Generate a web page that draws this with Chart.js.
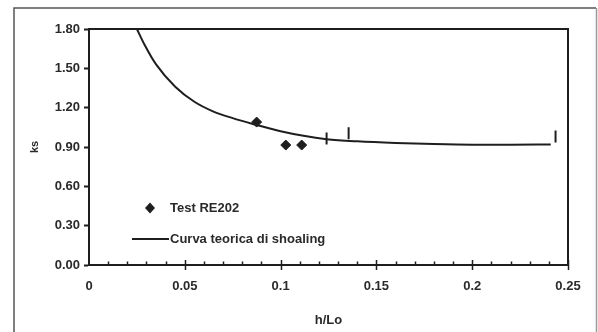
<!DOCTYPE html>
<html>
<head>
<meta charset="utf-8">
<script src="https://cdn.jsdelivr.net/npm/chart.js@4.4.1/dist/chart.umd.min.js"></script>
<style>
  html, body { margin: 0; padding: 0; background: #fff; }
  #wrap { width: 598px; height: 332px; position: relative; }
</style>
</head>
<body>
<div id="wrap"><canvas id="ksChart" width="598" height="332"></canvas></div>
<script>
// Test RE202 measurements
const testHLo = [0.0875, 0.1027, 0.111];
const testKs = [1.09, 0.915, 0.915];

// Theoretical shoaling curve
const curveHLo = [0.025, 0.029, 0.035, 0.045, 0.055, 0.065, 0.075, 0.087, 0.100, 0.112, 0.124, 0.140, 0.160, 0.180, 0.200, 0.220, 0.241];
const curveKs = [1.80, 1.68, 1.53, 1.36, 1.245, 1.17, 1.12, 1.07, 1.02, 0.985, 0.96, 0.943, 0.93, 0.922, 0.918, 0.918, 0.92];

// Short vertical marks drawn on top of the curve
const markHLo = [0.124, 0.1355, 0.2435];
const markKs = [0.965, 1.005, 0.98];

// Axis ticks
const xTickValues = [0, 0.05, 0.1, 0.15, 0.2, 0.25];
const xTickLabels = ["0", "0.05", "0.1", "0.15", "0.2", "0.25"];
const yTickValues = [0, 0.3, 0.6, 0.9, 1.2, 1.5, 1.8];

const legendLabels = ["Test RE202", "Curva teorica di shoaling"];

const INK = "#1e1e1e";
const FONT = "'Liberation Sans', Arial, sans-serif";

const toPoints = (xs, ys) => xs.map((x, i) => ({ x: x, y: ys[i] }));

// Page frame, plot box, minor ticks on x axis and the inner legend
const decorations = {
  id: "decorations",
  beforeDraw(chart) {
    const ctx = chart.ctx;
    ctx.save();
    ctx.fillStyle = "#fff";
    ctx.fillRect(0, 0, chart.width, chart.height);
    ctx.lineWidth = 1.5;
    ctx.strokeStyle = "#555";
    ctx.beginPath();
    ctx.moveTo(14, chart.height);
    ctx.lineTo(14, 8);
    ctx.lineTo(596, 8);
    ctx.stroke();
    ctx.strokeStyle = "#999";
    ctx.beginPath();
    ctx.moveTo(596.5, 8);
    ctx.lineTo(596.5, chart.height);
    ctx.stroke();
    ctx.restore();
  },
  afterDraw(chart) {
    const ctx = chart.ctx;
    const a = chart.chartArea;
    const xs = chart.scales.x;
    ctx.save();
    ctx.strokeStyle = INK;
    ctx.lineWidth = 2;
    ctx.beginPath();
    ctx.moveTo(a.left, a.top);
    ctx.lineTo(a.right, a.top);
    ctx.lineTo(a.right, a.bottom);
    ctx.stroke();

    // tick marks every 0.01, longer ones at each labelled value
    ctx.lineWidth = 1.5;
    for (let i = 1; i <= 25; i++) {
      const px = Math.round(xs.getPixelForValue(i / 100)) + 0.5;
      const major = i % 5 === 0;
      ctx.beginPath();
      ctx.moveTo(px, a.bottom - (major ? 5 : 3.5));
      ctx.lineTo(px, a.bottom + (major ? 5 : 0.5));
      ctx.stroke();
    }

    // legend
    const lx = a.left + 61;
    const ly1 = a.top + 179;
    const ly2 = a.top + 210;
    ctx.fillStyle = INK;
    ctx.beginPath();
    ctx.moveTo(lx, ly1 - 5.5);
    ctx.lineTo(lx + 5, ly1);
    ctx.lineTo(lx, ly1 + 5.5);
    ctx.lineTo(lx - 5, ly1);
    ctx.closePath();
    ctx.fill();
    ctx.lineWidth = 2;
    ctx.beginPath();
    ctx.moveTo(lx - 18, ly2);
    ctx.lineTo(lx + 19, ly2);
    ctx.stroke();
    ctx.fillStyle = "#2a2a2a";
    ctx.font = "bold 13px " + FONT;
    ctx.textBaseline = "middle";
    ctx.fillText(legendLabels[0], lx + 20, ly1);
    ctx.fillText(legendLabels[1], lx + 20, ly2);
    ctx.restore();
  }
};

new Chart(document.getElementById("ksChart"), {
  type: "scatter",
  data: {
    datasets: [
      {
        label: legendLabels[1],
        data: toPoints(curveHLo, curveKs),
        showLine: true,
        borderColor: INK,
        borderWidth: 2,
        pointRadius: 0,
        cubicInterpolationMode: "monotone",
        clip: false
      },
      {
        label: legendLabels[0],
        data: toPoints(testHLo, testKs),
        pointStyle: "rectRot",
        pointRadius: 5,
        backgroundColor: INK,
        borderColor: INK,
        borderWidth: 1
      },
      {
        label: "marks",
        data: toPoints(markHLo, markKs),
        pointStyle: "line",
        rotation: 90,
        pointRadius: 6,
        borderColor: INK,
        borderWidth: 2
      }
    ]
  },
  options: {
    responsive: false,
    animation: false,
    layout: { padding: { left: 14, right: 30, top: 29, bottom: 0 } },
    plugins: {
      legend: { display: false },
      tooltip: { enabled: false }
    },
    scales: {
      x: {
        type: "linear",
        min: 0,
        max: 0.25,
        afterBuildTicks: (s) => { s.ticks = xTickValues.map((v) => ({ value: v })); },
        afterFit: (s) => { s.height = 67; },
        grid: { display: false },
        border: { color: INK, width: 2 },
        ticks: {
          padding: 6,
          maxRotation: 0,
          color: "#2a2a2a",
          font: { family: FONT, size: 13, weight: "bold" },
          callback: (v) => xTickLabels[xTickValues.indexOf(v)]
        },
        title: {
          display: true,
          text: "h/Lo",
          color: "#2a2a2a",
          padding: { top: 14 },
          font: { family: FONT, size: 13, weight: "bold" }
        }
      },
      y: {
        min: 0,
        max: 1.8,
        afterBuildTicks: (s) => { s.ticks = yTickValues.map((v) => ({ value: v })); },
        afterFit: (s) => { s.width = 75; },
        grid: {
          drawOnChartArea: false,
          tickLength: 5,
          tickWidth: 2,
          tickColor: INK
        },
        border: { color: INK, width: 2 },
        ticks: {
          padding: 4,
          color: "#2a2a2a",
          font: { family: FONT, size: 13, weight: "bold" },
          callback: (v) => v.toFixed(2)
        },
        title: {
          display: true,
          text: "ks",
          color: "#2a2a2a",
          padding: { top: 14 },
          font: { family: FONT, size: 11, weight: "bold" }
        }
      }
    }
  },
  plugins: [decorations]
});
</script>
</body>
</html>
